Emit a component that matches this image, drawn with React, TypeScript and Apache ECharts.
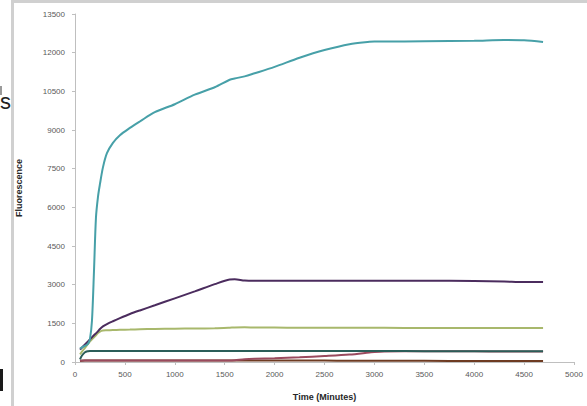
import React, { useEffect, useRef } from "react";
import * as echarts from "echarts";

const timeMinutes = [50, 70, 100, 130, 150, 170, 190, 210, 230, 250, 280, 320, 380, 450, 550, 650, 800, 1000, 1200, 1400, 1550, 1600, 1700, 1800, 2000, 2250, 2500, 2750, 2950, 3000, 3100, 3500, 4000, 4300, 4500, 4690];

const tealValues = [520, 570, 630, 700, 900, 1600, 3500, 5600, 6400, 6900, 7550, 8100, 8500, 8800, 9080, 9330, 9690, 10000, 10370, 10660, 10950, 11000, 11080, 11200, 11450, 11800, 12100, 12330, 12420, 12430, 12430, 12440, 12460, 12490, 12480, 12410];
const purpleValues = [480, 560, 680, 800, 880, 960, 1040, 1110, 1190, 1280, 1380, 1470, 1580, 1700, 1860, 2000, 2200, 2470, 2740, 3020, 3200, 3210, 3160, 3150, 3150, 3150, 3150, 3150, 3150, 3150, 3150, 3150, 3140, 3120, 3100, 3100];
const oliveValues = [300, 400, 550, 700, 800, 880, 960, 1040, 1120, 1180, 1220, 1230, 1240, 1250, 1260, 1270, 1280, 1290, 1300, 1310, 1330, 1340, 1345, 1340, 1335, 1330, 1330, 1330, 1325, 1325, 1325, 1320, 1320, 1320, 1320, 1320];
const darkTealValues = [100, 250, 380, 420, 430, 430, 430, 430, 430, 430, 430, 430, 430, 430, 430, 430, 430, 430, 430, 430, 430, 430, 430, 430, 430, 430, 430, 430, 425, 425, 425, 420, 420, 420, 420, 420];
const mauveValues = [50, 55, 60, 60, 60, 60, 60, 60, 60, 60, 60, 60, 60, 60, 60, 60, 60, 60, 60, 60, 60, 70, 110, 130, 150, 180, 230, 290, 370, 390, 410, 420, 415, 410, 410, 410];
const brownValues = [40, 50, 60, 60, 60, 60, 60, 60, 60, 60, 60, 60, 60, 60, 60, 60, 60, 60, 60, 60, 60, 60, 60, 60, 60, 55, 55, 50, 50, 50, 50, 45, 40, 40, 35, 35];

const seriesNames = ["Teal", "Purple", "Olive", "Dark teal", "Mauve", "Brown"];
const seriesColors = ["#47a0a8", "#4b2c5e", "#a8b86c", "#2b5d58", "#9a4a5e", "#6e3b22"];
const seriesValues = [tealValues, purpleValues, oliveValues, darkTealValues, mauveValues, brownValues];

const xTicks = { min: 0, max: 5000, interval: 500 };
const yTicks = { min: 0, max: 13500, interval: 1500 };

export default function App() {
  const ref = useRef<HTMLDivElement>(null);
  useEffect(() => {
    if (!ref.current) return;
    const chart = echarts.init(ref.current, null, { renderer: "svg" });
    const order = [5, 4, 3, 2, 1, 0];
    const plain = (v: number) => String(v);
    chart.setOption({
      animation: false,
      backgroundColor: "#ffffff",
      grid: { left: 75, right: 13, top: 14, bottom: 38, containLabel: false },
      xAxis: {
        type: "value",
        min: xTicks.min,
        max: xTicks.max,
        interval: xTicks.interval,
        name: "Time (Minutes)",
        nameLocation: "middle",
        nameGap: 30,
        nameTextStyle: { fontFamily: "Liberation Sans", fontSize: 9, fontWeight: "bold", color: "#262626" },
        axisLine: { show: true, lineStyle: { color: "#bfbfbf", width: 1 } },
        axisTick: { show: true, length: 3, lineStyle: { color: "#bfbfbf" } },
        axisLabel: { fontFamily: "Liberation Sans", fontSize: 8, color: "#595959", margin: 8, formatter: plain },
        splitLine: { show: false },
      },
      yAxis: {
        type: "value",
        min: yTicks.min,
        max: yTicks.max,
        interval: yTicks.interval,
        name: "Fluorescence",
        nameLocation: "middle",
        nameGap: 52,
        nameTextStyle: { fontFamily: "Liberation Sans", fontSize: 9, fontWeight: "bold", color: "#262626" },
        axisLine: { show: true, lineStyle: { color: "#bfbfbf", width: 1 } },
        axisTick: { show: true, length: 3, lineStyle: { color: "#bfbfbf" } },
        axisLabel: { fontFamily: "Liberation Sans", fontSize: 8, color: "#595959", margin: 10, formatter: plain },
        splitLine: { show: false },
      },
      series: order.map((i) => ({
        name: seriesNames[i],
        type: "line",
        smooth: 0.3,
        showSymbol: false,
        symbol: "none",
        lineStyle: { color: seriesColors[i], width: 2 },
        data: timeMinutes.map((t, k) => [t, seriesValues[i][k]]),
      })),
      graphic: [
        { type: "rect", shape: { x: 11, y: 0, width: 3, height: 406 }, style: { fill: "#d0d0d0" }, silent: true },
        { type: "rect", shape: { x: 11, y: 0, width: 576, height: 3 }, style: { fill: "#d0d0d0" }, silent: true },
        { type: "rect", shape: { x: 0, y: 86, width: 2, height: 9 }, style: { fill: "#9a9a9a" }, silent: true },
        { type: "text", x: 0, y: 90, style: { text: "s", fontFamily: "Liberation Sans", fontSize: 22, fill: "#222222" }, silent: true },
        { type: "rect", shape: { x: 0, y: 369, width: 3, height: 22 }, style: { fill: "#1a1a1a" }, silent: true },
      ],
    });
    return () => chart.dispose();
  }, []);
  return (
    <div
      ref={ref}
      style={{ position: "fixed", left: 0, top: 0, width: 587, height: 406, background: "#fff" }}
    />
  );
}
